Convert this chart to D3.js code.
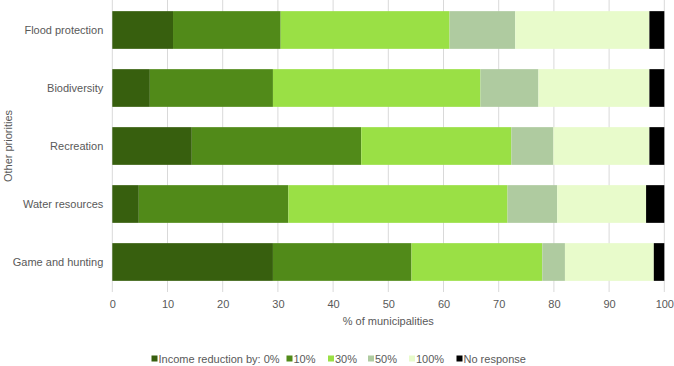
<!DOCTYPE html>
<html>
<head>
<meta charset="utf-8">
<script src="https://cdn.jsdelivr.net/npm/d3@7"></script>
<style>
  body { margin: 0; background: #fff; }
  svg { font-family: "Liberation Sans", Arial, sans-serif; }
</style>
</head>
<body>
<svg id="chart" width="674" height="366"></svg>
<script>
const categories = ['Flood protection', 'Biodiversity', 'Recreation', 'Water resources', 'Game and hunting'];
const seriesNames = ['0%', '10%', '30%', '50%', '100%', 'No response'];
const legendLabels = ['Income reduction by: 0%', '10%', '30%', '50%', '100%', 'No response'];
const colors = ['#375f0e', '#518a19', '#9ae045', '#afcba0', '#e8fbcb', '#000000'];

const v0 = [11.0, 6.8, 14.4, 4.8, 29.1];
const v10 = [19.5, 22.3, 30.7, 27.1, 25.1];
const v30 = [30.6, 37.6, 27.2, 39.7, 23.7];
const v50 = [11.9, 10.5, 7.6, 9.0, 4.1];
const v100 = [24.3, 20.1, 17.4, 16.1, 16.1];
const vNone = [2.7, 2.7, 2.7, 3.3, 1.9];
const xTicks = [0, 10, 20, 30, 40, 50, 60, 70, 80, 90, 100];

const values = [v0, v10, v30, v50, v100, vNone];
const rows = categories.map((c, i) => {
  const r = { name: c };
  seriesNames.forEach((s, j) => { r[s] = values[j][i]; });
  return r;
});

const svg = d3.select('#chart');
const margin = { top: 1, right: 10, bottom: 75, left: 112.3 };
const width = 674, height = 366;

const x = d3.scaleLinear().domain([0, 100]).range([margin.left, 664.3]);
const y = d3.scaleBand().domain(categories).range([margin.top, 291]).paddingInner(0.35).paddingOuter(0.175);

const stack = d3.stack().keys(seriesNames);
const series = stack(rows);

// gridlines
svg.append('g')
  .selectAll('line')
  .data(xTicks)
  .join('line')
  .attr('x1', d => x(d)).attr('x2', d => x(d))
  .attr('y1', 0).attr('y2', 292)
  .attr('stroke', '#d9d9d9')
  .attr('stroke-width', 1);

svg.append('g')
  .selectAll('g')
  .data(series)
  .join('g')
  .attr('fill', (d, i) => colors[i])
  .selectAll('rect')
  .data(d => d)
  .join('rect')
  .attr('x', d => x(d[0]))
  .attr('y', d => y(d.data.name))
  .attr('width', d => x(d[1]) - x(d[0]))
  .attr('height', y.bandwidth());

// x axis
const xAxis = svg.append('g')
  .attr('transform', `translate(0,${292})`)
  .call(d3.axisBottom(x).tickValues(xTicks).tickSize(0).tickPadding(8));
xAxis.select('.domain').remove();
xAxis.selectAll('text')
  .attr('fill', '#595959')
  .attr('font-size', 11)
  .attr('font-family', '"Liberation Sans", Arial, sans-serif');

// y axis
const yAxis = svg.append('g')
  .attr('transform', `translate(${margin.left},0)`)
  .call(d3.axisLeft(y).tickSize(0).tickPadding(9));
yAxis.select('.domain').remove();
yAxis.selectAll('text')
  .attr('fill', '#595959')
  .attr('font-size', 11)
  .attr('font-family', '"Liberation Sans", Arial, sans-serif');

svg.append('text')
  .attr('x', (x(0) + x(100)) / 2)
  .attr('y', 325)
  .attr('text-anchor', 'middle')
  .attr('fill', '#595959')
  .attr('font-size', 11)
  .text('% of municipalities');

svg.append('text')
  .attr('transform', `translate(12,${(y.range()[0] + y.range()[1]) / 2}) rotate(-90)`)
  .attr('text-anchor', 'middle')
  .attr('fill', '#595959')
  .attr('font-size', 11)
  .text('Other priorities');

// legend
const legendX = [151.5, 286.5, 328, 368, 409, 456.5];
const legend = svg.append('g')
  .selectAll('g')
  .data(legendLabels)
  .join('g')
  .attr('transform', (d, i) => `translate(${legendX[i]},359)`);
legend.append('rect')
  .attr('x', 0).attr('y', -3.5)
  .attr('width', 6).attr('height', 6)
  .attr('fill', (d, i) => colors[i]);
legend.append('text')
  .attr('x', 7)
  .attr('dy', '0.35em')
  .attr('fill', '#595959')
  .attr('font-size', 11)
  .text(d => d);
</script>
</body>
</html>
